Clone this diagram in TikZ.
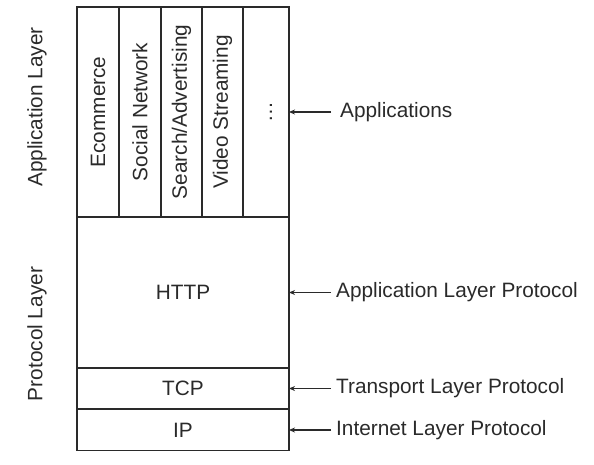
\documentclass[tikz,border=0pt]{standalone}
\usepackage{fontspec}
\setmainfont{Liberation Sans}
\usetikzlibrary{arrows.meta}
\definecolor{ink}{HTML}{2A2A2A}
\begin{document}
\begin{tikzpicture}[x=1pt,y=-1pt,
  cell/.style={draw=ink, line width=1.1pt, inner sep=0pt, outer sep=0pt},
  lbl/.style={font=\fontsize{20.8}{24}\selectfont, text=ink, inner sep=0pt},
  ptr/.style={draw=ink, line width=1.1pt, -{Stealth[length=6pt,width=5pt]}}]
\useasboundingbox (0,0) rectangle (594,465);
% application columns
\node[cell, minimum width=42pt, minimum height=210pt] (c1) at (98,112) {};
\node[cell, minimum width=42pt, minimum height=210pt] (c2) at (140,112) {};
\node[cell, minimum width=41pt, minimum height=210pt] (c3) at (181.5,112) {};
\node[cell, minimum width=41pt, minimum height=210pt] (c4) at (222.5,112) {};
\node[cell, minimum width=46pt, minimum height=210pt] (c5) at (266,112) {};
\node[lbl, rotate=90] (t1) at (c1) {Ecommerce};
\node[lbl, rotate=90] (t2) at (c2) {Social Network};
\node[lbl, rotate=90] (t3) at (c3) {Search/Advertising};
\node[lbl, rotate=90] (t4) at (c4) {Video Streaming};
\node[lbl, rotate=90] (t5) at (271,112) {\dots};
% protocol boxes
\node[cell, minimum width=212pt, minimum height=151pt] (http) at (183,292.5) {};
\node[cell, minimum width=212pt, minimum height=41pt] (tcp) at (183,388.5) {};
\node[cell, minimum width=212pt, minimum height=41pt] (ip) at (183,430) {};
\node[lbl] (thttp) at (http) {HTTP};
\node[lbl] (ttcp) at (tcp) {TCP};
\node[lbl] (tip) at (ip) {IP};
% left side labels
\node[lbl, rotate=90] (applayer) at (37,107) {Application Layer};
\node[lbl, rotate=90] (protlayer) at (37,334) {Protocol Layer};
% right side labels
\node[lbl, anchor=west, inner xsep=9pt] (lapps) at (331,112) {Applications};
\node[lbl, anchor=west, inner xsep=5pt] (lhttp) at (331,292.5) {Application Layer Protocol};
\node[lbl, anchor=west, inner xsep=5pt] (ltcp) at (331,388.5) {Transport Layer Protocol};
\node[lbl, anchor=west, inner xsep=5pt] (lip) at (331,430) {Internet Layer Protocol};
% arrows
\draw[ptr] (lapps.west) -- (c5.east);
\draw[ptr] (lhttp.west) -- (http.east);
\draw[ptr] (ltcp.west) -- (tcp.east);
\draw[ptr] (lip.west) -- (ip.east);
\end{tikzpicture}
\end{document}
